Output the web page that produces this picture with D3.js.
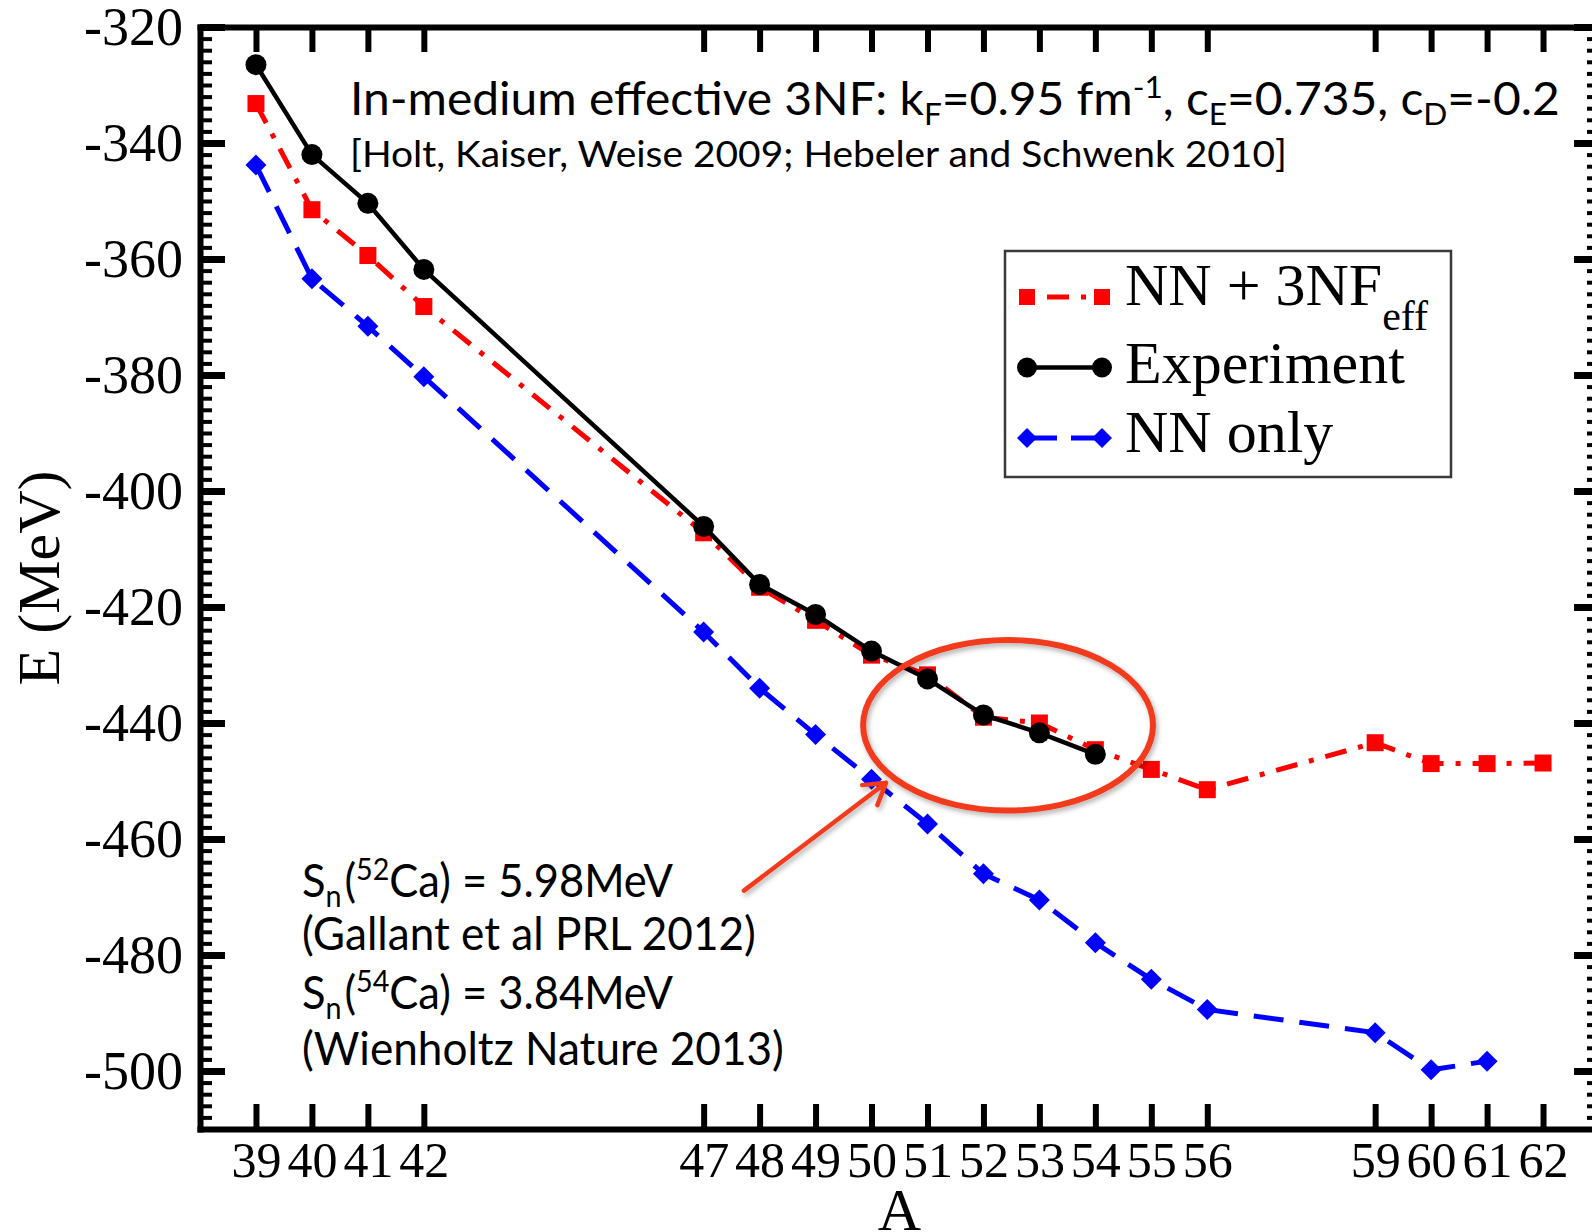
<!DOCTYPE html>
<html>
<head>
<meta charset="utf-8">
<script src="https://cdn.jsdelivr.net/npm/d3@7"></script>
<style>
  html, body { margin: 0; padding: 0; background: #fff; }
  svg { display: block; }
</style>
</head>
<body>
<svg id="chart" width="1592" height="1232"></svg>
<script>
// Ground-state energies of calcium isotopes (MeV) versus mass number A
const massNN3NF   = [39, 40, 41, 42, 47, 48, 49, 50, 51, 52, 53, 54, 55, 56, 59, 60, 61, 62];
const energyNN3NF = [-333.2, -351.5, -359.4, -368.2, -407.2, -416.6, -422.3, -428.3, -431.7, -439.0,
                     -440.0, -444.6, -448.0, -451.5, -443.4, -447.0, -447.0, -446.9];

const massExp   = [39, 40, 41, 42, 47, 48, 49, 50, 51, 52, 53, 54];
const energyExp = [-326.5, -342.0, -350.4, -361.8, -406.1, -416.1, -421.3, -427.6, -432.4, -438.6,
                   -441.7, -445.4];

const massNN   = [39, 40, 41, 42, 47, 48, 49, 50, 51, 52, 53, 54, 55, 56, 59, 60, 61];
const energyNN = [-343.8, -363.4, -371.6, -380.3, -424.3, -434.0, -442.0, -449.7, -457.4, -466.0,
                  -470.5, -477.9, -484.2, -489.4, -493.4, -499.8, -498.3];

const xTickValues = [39, 40, 41, 42, 47, 48, 49, 50, 51, 52, 53, 54, 55, 56, 59, 60, 61, 62];
const yTickValues = [-500, -480, -460, -440, -420, -400, -380, -360, -340, -320];

const legendLabels = ["NN + 3NF", "Experiment", "NN only"];
const xLabel = "A";
const yLabel = "E (MeV)";

// Highlighted region (52,54Ca) and the arrow pointing at it, in data units
const highlight = { A: 52.44, E: -440.4, halfA: 2.59, halfE: 14.7 };
const arrowFrom = { A: 47.72, E: -468.9 };
const arrowTo   = { A: 50.26, E: -450.3 };

(function draw() {
  const COLORS = { nn3nf: "#ff0000", exp: "#000000", nn: "#0000ff", note: "#f23b1c" };
  const SERIF = "'Liberation Serif', 'Times New Roman', serif";
  const SANS = "Lato, 'Open Sans', sans-serif";

  const svg = d3.select("#chart");
  svg.append("rect").attr("width", 1592).attr("height", 1232).attr("fill", "#fff");

  const defs = svg.append("defs");
  const shadow = defs.append("filter").attr("id", "soft-shadow")
    .attr("x", "-20%").attr("y", "-20%").attr("width", "140%").attr("height", "140%");
  shadow.append("feDropShadow").attr("dx", 2).attr("dy", 3).attr("stdDeviation", 2.5)
    .attr("flood-color", "#000").attr("flood-opacity", 0.3);

  const pLeft = 200, pRight = 1599, pTop = 27, pBottom = 1129;
  const x = d3.scaleLinear().domain([38, 63]).range([pLeft, pRight]);
  const y = d3.scaleLinear().domain([-510, -320]).range([pBottom, pTop]);

  // ---------- axes ----------
  const minorY = d3.range(-510, -319, 2).filter(v => v % 20 !== 0);
  const plainNumber = d => String(d);   // hyphen-minus, as in the printed figure

  function styleAxis(g, width) {
    g.selectAll(".tick line").attr("stroke", "#000").attr("stroke-width", width);
    g.select(".domain").attr("stroke", "#000").attr("stroke-width", 6).attr("stroke-linecap", "square");
  }

  const gLeft = svg.append("g").attr("transform", `translate(${pLeft},0)`)
    .call(d3.axisLeft(y).tickValues(yTickValues).tickSize(-25).tickSizeOuter(0).tickPadding(17)
      .tickFormat(plainNumber));
  styleAxis(gLeft, 7);
  gLeft.selectAll("text").attr("font-family", SERIF).attr("font-size", 54).attr("fill", "#000");

  const gLeftMinor = svg.append("g").attr("transform", `translate(${pLeft},0)`)
    .call(d3.axisLeft(y).tickValues(minorY).tickSize(-12).tickFormat(""));
  gLeftMinor.select(".domain").remove();
  styleAxis(gLeftMinor, 4);

  const gRight = svg.append("g").attr("transform", `translate(${pRight},0)`)
    .call(d3.axisRight(y).tickValues(yTickValues).tickSize(-25).tickSizeOuter(0).tickFormat(""));
  styleAxis(gRight, 7);
  const gRightMinor = svg.append("g").attr("transform", `translate(${pRight},0)`)
    .call(d3.axisRight(y).tickValues(minorY).tickSize(-12).tickFormat(""));
  gRightMinor.select(".domain").remove();
  styleAxis(gRightMinor, 4);

  const gBottom = svg.append("g").attr("transform", `translate(0,${pBottom})`)
    .call(d3.axisBottom(x).tickValues(xTickValues).tickSize(-25).tickSizeOuter(0).tickPadding(12)
      .tickFormat(plainNumber));
  styleAxis(gBottom, 6);
  gBottom.selectAll("text").attr("font-family", SERIF).attr("font-size", 50).attr("fill", "#000");

  const gTop = svg.append("g").attr("transform", `translate(0,${pTop})`)
    .call(d3.axisTop(x).tickValues(xTickValues).tickSize(-25).tickSizeOuter(0).tickFormat(""));
  styleAxis(gTop, 6);

  svg.append("text")
    .attr("x", (pLeft + pRight) / 2).attr("y", 1230)
    .attr("text-anchor", "middle").attr("font-family", SERIF).attr("font-size", 60)
    .text(xLabel);
  svg.append("text")
    .attr("transform", `translate(59,${(pTop + pBottom) / 2}) rotate(-90)`)
    .attr("text-anchor", "middle").attr("font-family", SERIF).attr("font-size", 60)
    .text(yLabel);

  // ---------- series ----------
  const line = d3.line().x(d => x(d[0])).y(d => y(d[1]));
  const zip = (a, b) => a.map((v, i) => [v, b[i]]);

  const nnPts = zip(massNN, energyNN);
  const nn3Pts = zip(massNN3NF, energyNN3NF);
  const expPts = zip(massExp, energyExp);

  const diamond = r => `M0,${-r}L${r},0L0,${r}L${-r},0Z`;

  // NN only: blue dashed with diamonds
  svg.append("path").datum(nnPts).attr("d", line)
    .attr("fill", "none").attr("stroke", COLORS.nn).attr("stroke-width", 5)
    .attr("stroke-dasharray", "30,16");
  svg.append("g").selectAll("path").data(nnPts).join("path")
    .attr("transform", d => `translate(${x(d[0])},${y(d[1])})`)
    .attr("d", diamond(10.5)).attr("fill", COLORS.nn);

  // NN + 3NF: red dash-dot with squares
  svg.append("path").datum(nn3Pts).attr("d", line)
    .attr("fill", "none").attr("stroke", COLORS.nn3nf).attr("stroke-width", 5)
    .attr("stroke-dasharray", "22,12,5,12");
  svg.append("g").selectAll("rect").data(nn3Pts).join("rect")
    .attr("x", d => x(d[0]) - 8.5).attr("y", d => y(d[1]) - 8.5)
    .attr("width", 17).attr("height", 17).attr("fill", COLORS.nn3nf);

  // Experiment: black solid with circles
  svg.append("path").datum(expPts).attr("d", line)
    .attr("fill", "none").attr("stroke", COLORS.exp).attr("stroke-width", 4.5);
  svg.append("g").selectAll("circle").data(expPts).join("circle")
    .attr("cx", d => x(d[0])).attr("cy", d => y(d[1])).attr("r", 10.5).attr("fill", COLORS.exp);

  // ---------- legend ----------
  const lg = svg.append("g");
  lg.append("rect").attr("x", 1005).attr("y", 251).attr("width", 446).attr("height", 226)
    .attr("fill", "#fff").attr("stroke", "#3a3a3a").attr("stroke-width", 2.5);
  const lx0 = 1027, lx1 = 1102;
  lg.append("line").attr("x1", lx0).attr("x2", lx1).attr("y1", 297).attr("y2", 297)
    .attr("stroke", COLORS.nn3nf).attr("stroke-width", 5)
    .attr("stroke-dasharray", "22,12,5,12").attr("stroke-dashoffset", 31);
  [lx0, lx1].forEach(cx => lg.append("rect").attr("x", cx - 8).attr("y", 289)
    .attr("width", 16).attr("height", 16).attr("fill", COLORS.nn3nf));
  lg.append("line").attr("x1", lx0).attr("x2", lx1).attr("y1", 367.5).attr("y2", 367.5)
    .attr("stroke", COLORS.exp).attr("stroke-width", 4.5);
  [lx0, lx1].forEach(cx => lg.append("circle").attr("cx", cx).attr("cy", 367.5).attr("r", 10)
    .attr("fill", COLORS.exp));
  lg.append("line").attr("x1", lx0).attr("x2", lx1).attr("y1", 438).attr("y2", 438)
    .attr("stroke", COLORS.nn).attr("stroke-width", 5).attr("stroke-dasharray", "30,14");
  [lx0, lx1].forEach(cx => lg.append("path").attr("transform", `translate(${cx},438)`)
    .attr("d", diamond(10)).attr("fill", COLORS.nn));

  const lt0 = lg.append("text").attr("x", 1125).attr("y", 305)
    .attr("font-family", SERIF).attr("font-size", 60);
  lt0.append("tspan").text(legendLabels[0]);
  lt0.append("tspan").attr("dy", 25).attr("font-size", 42).text("eff");
  lg.append("text").attr("x", 1125).attr("y", 383)
    .attr("font-family", SERIF).attr("font-size", 60).text(legendLabels[1]);
  lg.append("text").attr("x", 1125).attr("y", 452)
    .attr("font-family", SERIF).attr("font-size", 60).text(legendLabels[2]);

  // ---------- annotations ----------
  // rich text with sub/superscripts, stretched horizontally to a given width
  function richText(parts, x0, y0, size, width) {
    const small = size * 0.66;
    const subShift = size * 0.22, supShift = size * 0.36;
    const t = svg.append("text").attr("font-family", SANS).attr("font-size", size).attr("fill", "#000");
    let cur = 0;
    parts.forEach(p => {
      const target = p.sub ? subShift : p.sup ? -supShift : 0;
      const ts = t.append("tspan").text(p.t).attr("dy", target - cur);
      if (p.sub || p.sup) ts.attr("font-size", small);
      if (p.gap) ts.attr("dx", p.gap);
      cur = target;
    });
    const bb = t.node().getBBox();
    const k = width / bb.width;
    t.attr("transform", `translate(${x0 - bb.x * k},${y0}) scale(${k},1)`);
    return t;
  }

  richText([
    { t: "In-medium effective 3NF: k" }, { t: "F", sub: true }, { t: "=0.95 fm" }, { t: "-1", sup: true },
    { t: ", c" }, { t: "E", sub: true }, { t: "=0.735, c" }, { t: "D", sub: true }, { t: "=-0.2" }
  ], 350, 115, 46, 1210);

  richText([{ t: "[Holt, Kaiser, Weise 2009; Hebeler and Schwenk 2010]" }], 350, 167, 37, 937);

  const noteSize = 46;
  richText([{ t: "S" }, { t: "n", sub: true }, { t: "(", gap: 3 }, { t: "52", sup: true }, { t: "Ca) = 5.98MeV" }],
    302, 897, noteSize, 371);
  richText([{ t: "(Gallant et al PRL 2012)" }], 302, 950, noteSize, 454);
  richText([{ t: "S" }, { t: "n", sub: true }, { t: "(", gap: 3 }, { t: "54", sup: true }, { t: "Ca) = 3.84MeV" }],
    302, 1009, noteSize, 371);
  richText([{ t: "(Wienholtz Nature 2013)" }], 302, 1065, noteSize, 482);

  // highlight ellipse
  svg.append("ellipse")
    .attr("cx", x(highlight.A)).attr("cy", y(highlight.E))
    .attr("rx", x(highlight.A + highlight.halfA) - x(highlight.A))
    .attr("ry", y(highlight.E - highlight.halfE) - y(highlight.E))
    .attr("fill", "none").attr("stroke", COLORS.note).attr("stroke-width", 6)
    .attr("filter", "url(#soft-shadow)");

  // arrow
  const ax0 = x(arrowFrom.A), ay0 = y(arrowFrom.E), ax1 = x(arrowTo.A), ay1 = y(arrowTo.E);
  const ang = Math.atan2(ay1 - ay0, ax1 - ax0);
  const head = 24, spread = 0.55;
  const arrowPath = d3.path();
  arrowPath.moveTo(ax0, ay0); arrowPath.lineTo(ax1, ay1);
  arrowPath.moveTo(ax1 - head * Math.cos(ang - spread), ay1 - head * Math.sin(ang - spread));
  arrowPath.lineTo(ax1, ay1);
  arrowPath.lineTo(ax1 - head * Math.cos(ang + spread), ay1 - head * Math.sin(ang + spread));
  svg.append("path").attr("d", arrowPath.toString())
    .attr("fill", "none").attr("stroke", COLORS.note).attr("stroke-width", 4.5)
    .attr("stroke-linecap", "round").attr("stroke-linejoin", "round")
    .attr("filter", "url(#soft-shadow)");
})();
</script>
</body>
</html>
